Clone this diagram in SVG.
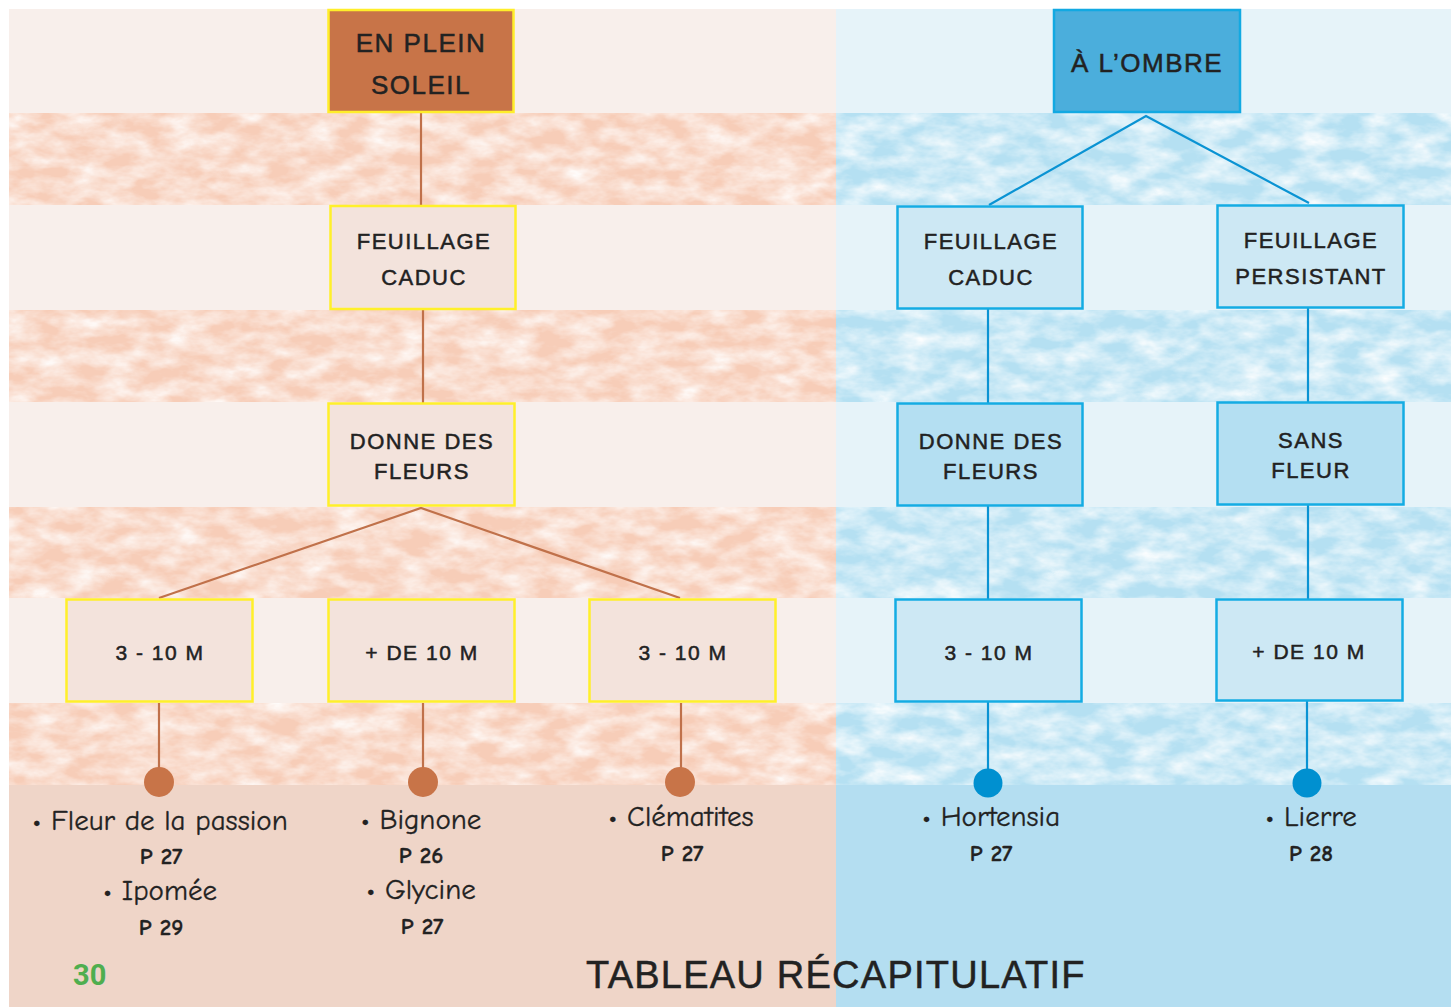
<svg xmlns="http://www.w3.org/2000/svg" width="1451" height="1007" viewBox="0 0 1451 1007">
<defs>
<style>
.cap{font-family:"Liberation Sans","DejaVu Sans",sans-serif;fill:#222;stroke:#222;stroke-width:0.5;text-anchor:middle;letter-spacing:1.5px}
.body{font-family:"Comic Neue","Noto Sans","DejaVu Sans",sans-serif;fill:#222;text-anchor:middle;stroke:#222;stroke-width:0.3}
.pg{font-weight:bold}
.lnL{stroke:#c0714a;stroke-width:2.2;fill:none}
.lnR{stroke:#0a93d3;stroke-width:2.2;fill:none}
.boxL{fill:#f3e3dc;stroke:#fff02a;stroke-width:2.5}
.boxR{fill:#cde8f4;stroke:#14ace3;stroke-width:2.5}
.boxR2{fill:#b4dff2;stroke:#14ace3;stroke-width:2.5}
</style>
<filter id="mottle" x="0" y="0" width="1" height="1">
<feTurbulence type="fractalNoise" baseFrequency="0.03 0.06" numOctaves="4" seed="7" result="n"/>
<feColorMatrix in="n" type="matrix" values="0 0 0 0 1 0 0 0 0 1 0 0 0 0 1 1.6 0 0 0 -0.5" result="w"/>
<feComposite in="w" in2="SourceAlpha" operator="in"/>
</filter>
</defs>
<rect width="1451" height="1007" fill="#ffffff"/>
<g id="background">
<rect x="9" y="9" width="827" height="776" fill="#f8efeb"/>
<rect x="836" y="9" width="615" height="776" fill="#e6f3f9"/>
<g fill="#f7cdb8">
<rect x="9" y="113" width="827" height="92"/>
<rect x="9" y="310" width="827" height="92"/>
<rect x="9" y="507" width="827" height="91"/>
<rect x="9" y="703" width="827" height="82"/>
</g>
<g fill="#b5e0f2">
<rect x="836" y="113" width="615" height="92"/>
<rect x="836" y="310" width="615" height="92"/>
<rect x="836" y="507" width="615" height="91"/>
<rect x="836" y="703" width="615" height="82"/>
</g>
<g filter="url(#mottle)" fill="#000">
<rect x="9" y="113" width="1442" height="92"/>
<rect x="9" y="310" width="1442" height="92"/>
<rect x="9" y="507" width="1442" height="91"/>
<rect x="9" y="703" width="1442" height="82"/>
</g>
<rect x="9" y="785" width="827" height="222" fill="#efd5c8"/>
<rect x="836" y="785" width="615" height="222" fill="#b4def1"/>
</g>
<g id="connectors">
<line class="lnL" x1="421" y1="113" x2="421" y2="205"/>
<line class="lnL" x1="423" y1="309" x2="423" y2="403"/>
<polyline class="lnL" points="159,598 421,508 680,598"/>
<line class="lnL" x1="159" y1="703" x2="159" y2="782"/>
<line class="lnL" x1="423" y1="703" x2="423" y2="782"/>
<line class="lnL" x1="681" y1="703" x2="681" y2="782"/>
<circle cx="159" cy="782" r="15" fill="#c87448"/>
<circle cx="423" cy="782" r="15" fill="#c87448"/>
<circle cx="680" cy="782" r="15" fill="#c87448"/>
<polyline class="lnR" points="989,205 1146,116 1309,203"/>
<line class="lnR" x1="988" y1="309" x2="988" y2="403"/>
<line class="lnR" x1="1308" y1="308" x2="1308" y2="402"/>
<line class="lnR" x1="988" y1="506" x2="988" y2="599"/>
<line class="lnR" x1="1308" y1="505" x2="1308" y2="599"/>
<line class="lnR" x1="988" y1="702" x2="988" y2="783"/>
<line class="lnR" x1="1307" y1="701" x2="1307" y2="783"/>
<circle cx="988" cy="783" r="14.5" fill="#0090d0"/>
<circle cx="1307" cy="783" r="14.5" fill="#0090d0"/>
</g>
<g id="node-plein-soleil">
<rect x="328.5" y="10" width="185" height="102" fill="#c87448" stroke="#ffee2a" stroke-width="2.5"/>
<text class="cap" x="421" y="52" font-size="26">EN PLEIN</text>
<text class="cap" x="421" y="94" font-size="26">SOLEIL</text>
</g>
<g id="node-ombre">
<rect x="1054" y="10" width="186" height="102" fill="#4baedc" stroke="#12a9e2" stroke-width="2.5"/>
<text class="cap" x="1147" y="72" font-size="26">À L’OMBRE</text>
</g>
<g id="node-l-caduc">
<rect class="boxL" x="330.5" y="206" width="185" height="103"/>
<text class="cap" x="424" y="249" font-size="22">FEUILLAGE</text>
<text class="cap" x="424" y="285" font-size="22">CADUC</text>
</g>
<g id="node-l-fleurs">
<rect class="boxL" x="328.5" y="403.5" width="186" height="102"/>
<text class="cap" x="422" y="449" font-size="22">DONNE DES</text>
<text class="cap" x="422" y="479" font-size="22">FLEURS</text>
</g>
<g id="node-l-3-10a">
<rect class="boxL" x="66.5" y="599.5" width="186" height="102"/>
<text class="cap" x="160" y="660" font-size="21">3 - 10 M</text>
</g>
<g id="node-l-10">
<rect class="boxL" x="328.5" y="599.5" width="186" height="102"/>
<text class="cap" x="422" y="660" font-size="21">+ DE 10 M</text>
</g>
<g id="node-l-3-10b">
<rect class="boxL" x="589.5" y="599.5" width="186" height="102"/>
<text class="cap" x="683" y="660" font-size="21">3 - 10 M</text>
</g>
<g id="node-r-caduc">
<rect class="boxR" x="897.5" y="206.5" width="185" height="102"/>
<text class="cap" x="991" y="249" font-size="22">FEUILLAGE</text>
<text class="cap" x="991" y="285" font-size="22">CADUC</text>
</g>
<g id="node-r-persistant">
<rect class="boxR" x="1217.5" y="205.5" width="186" height="102"/>
<text class="cap" x="1311" y="248" font-size="22">FEUILLAGE</text>
<text class="cap" x="1311" y="284" font-size="22">PERSISTANT</text>
</g>
<g id="node-r-fleurs">
<rect class="boxR2" x="897.5" y="403.5" width="185" height="102"/>
<text class="cap" x="991" y="449" font-size="22">DONNE DES</text>
<text class="cap" x="991" y="479" font-size="22">FLEURS</text>
</g>
<g id="node-r-sans">
<rect class="boxR2" x="1217.5" y="402.5" width="186" height="102"/>
<text class="cap" x="1311" y="448" font-size="22">SANS</text>
<text class="cap" x="1311" y="478" font-size="22">FLEUR</text>
</g>
<g id="node-r-3-10">
<rect class="boxR" x="895.5" y="599.5" width="186" height="102"/>
<text class="cap" x="989" y="660" font-size="21">3 - 10 M</text>
</g>
<g id="node-r-10">
<rect class="boxR" x="1216.5" y="599.5" width="186" height="101"/>
<text class="cap" x="1309" y="659" font-size="21">+ DE 10 M</text>
</g>
<g id="plant-lists">
<text class="body" x="160" y="830" font-size="29">• Fleur de la passion</text>
<text class="body pg" x="161" y="864" font-size="23">P 27</text>
<text class="body" x="160" y="900" font-size="29">• Ipomée</text>
<text class="body pg" x="161" y="935" font-size="23">P 29</text>
<text class="body" x="421" y="829" font-size="29">• Bignone</text>
<text class="body pg" x="421" y="863" font-size="23">P 26</text>
<text class="body" x="421" y="899" font-size="29">• Glycine</text>
<text class="body pg" x="422" y="934" font-size="23">P 27</text>
<text class="body" x="681" y="826" font-size="29">• Clématites</text>
<text class="body pg" x="682" y="861" font-size="23">P 27</text>
<text class="body" x="991" y="826" font-size="29">• Hortensia</text>
<text class="body pg" x="991" y="861" font-size="23">P 27</text>
<text class="body" x="1311" y="826" font-size="29">• Lierre</text>
<text class="body pg" x="1311" y="861" font-size="23">P 28</text>
</g>
<g id="footer">
<text x="73" y="985" font-family="Roboto,'Liberation Sans',sans-serif" font-size="29" font-weight="bold" fill="#4fae4f">30</text>
<text class="cap" x="836" y="988" font-size="38" textLength="500" letter-spacing="0">TABLEAU RÉCAPITULATIF</text>
</g>
</svg>
